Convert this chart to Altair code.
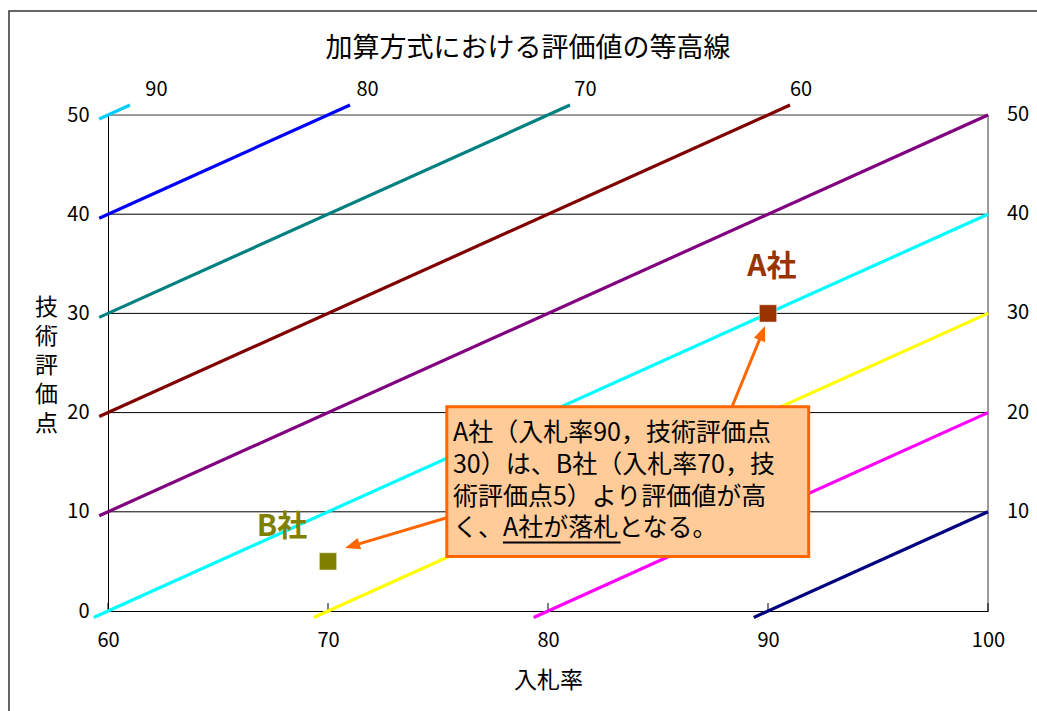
import altair as alt
import pandas as pd

FONT = "Noto Sans CJK JP"

# ---- data ----
title_text = "加算方式における評価値の等高線"
x_title = "入札率"
y_title = ["技", "術", "評", "価", "点"]
x_ticks = [60, 70, 80, 90, 100]
y_ticks = [0, 10, 20, 30, 40, 50]

# contour lines of evaluation value (technical score + (100 - bid rate))
line_values = [90, 80, 70, 60, 50, 40, 30, 20, 10]
line_colors = ["#00CCFF", "#0000FF", "#008080", "#800000", "#800080",
               "#00FFFF", "#FFFF00", "#FF00FF", "#000080"]
line_x_start = [59.6, 59.6, 59.6, 59.6, 59.6, 59.35, 69.35, 79.35, 89.35]
line_y_start = [49.6, 39.6, 29.6, 19.6, 9.6, -0.65, -0.65, -0.65, -0.65]
line_x_end = [61.0, 71.0, 81.0, 91.0, 100, 100, 100, 100, 100]
line_y_end = [51.0, 51.0, 51.0, 51.0, 50, 40, 30, 20, 10]

top_label_text = ["90", "80", "70", "60"]
top_label_x = [62.2, 71.8, 81.7, 91.5]
top_label_y = [52.5, 52.5, 52.5, 52.5]

right_label_text = ["50", "40", "30", "20", "10"]
right_label_y = [50, 40, 30, 20, 10]

grid_y = [10, 20, 30, 40]

company_names = ["A社", "B社"]
company_bid = [90, 70]
company_tech = [30, 5]
company_colors = ["#993300", "#808000"]
company_label_x = [90.18, 67.91]
company_label_y = [34.7, 8.5]

box_x = [75.4, 91.85]
box_y = [5.5, 20.6]
box_lines = ["A社（入札率90，技術評価点",
             "30）は、B社（入札率70，技",
             "術評価点5）より評価値が高",
             "く、A社が落札となる。"]
box_line_y = [17.94, 14.72, 11.49, 8.37]
box_text_x = 75.68
underline_x = [77.95, 83.3]
underline_y = 6.9

arrow_x0 = [88.36, 75.4]
arrow_y0 = [20.56, 9.4]
arrow_x1 = [89.74, 71.1]
arrow_y1 = [28.03, 6.57]
arrow_angle = [22, 253]

# ---- tables ----
rows = []
for v, xs, ys, xe, ye in zip(line_values, line_x_start, line_y_start, line_x_end, line_y_end):
    rows.append({"v": v, "x": xs, "y": ys, "o": 0})
    rows.append({"v": v, "x": xe, "y": ye, "o": 1})
lines_df = pd.DataFrame(rows)

xscale = alt.Scale(domain=[60, 100], nice=False, zero=False)
yscale = alt.Scale(domain=[0, 50], nice=False, zero=False)

xaxis = alt.Axis(values=x_ticks, title=x_title, grid=False, ticks=False,
                 labelFontSize=20, labelPadding=19, labelFont=FONT, labelColor="#000",
                 labelFlush=False, titleFont=FONT, titleFontSize=23, titleFontWeight="normal",
                 titleColor="#000", titleBaseline="middle", titleY=69,
                 domainColor="#000", domainWidth=1)
yaxis = alt.Axis(values=y_ticks, title=y_title, grid=False, ticks=False,
                 labelFontSize=20, labelPadding=19, labelFont=FONT, labelColor="#000",
                 labelFlush=False, titleFont=FONT, titleFontSize=23, titleFontWeight="normal",
                 titleColor="#000", titleAngle=0, titleX=-62, titleY=192,
                 titleAlign="center", titleBaseline="middle", titleLineHeight=29,
                 domainColor="#000", domainWidth=1)


def X(field):
    return alt.X(field, type="quantitative", scale=xscale, axis=xaxis)


def Y(field):
    return alt.Y(field, type="quantitative", scale=yscale, axis=yaxis)


one = alt.Data(values=[{"t": title_text}])

border = alt.Chart(one).mark_rect(fillOpacity=0, stroke="#333333", strokeWidth=1.5).encode(
    x=alt.value(-99), x2=alt.value(940), y=alt.value(-104), y2=alt.value(610))

title = alt.Chart(one).mark_text(font=FONT, fontSize=27, color="#000", align="center",
                                 baseline="middle").encode(
    x=alt.value(420), y=alt.value(-66), text="t:N")

grid_df = pd.DataFrame({"y": grid_y, "x0": 60, "x1": 100})
grid = alt.Chart(grid_df).mark_rule(color="#000000", strokeWidth=1).encode(
    x=X("x0"), x2="x1:Q", y=Y("y"))

top_df = pd.DataFrame({"y": [50], "x0": [60], "x1": [100]})
top_border = alt.Chart(top_df).mark_rule(color="#808080", strokeWidth=1.5).encode(
    x=X("x0"), x2="x1:Q", y=Y("y"))

right_df = pd.DataFrame({"x": [100], "y0": [0], "y1": [50]})
right_border = alt.Chart(right_df).mark_rule(color="#808080", strokeWidth=1.5).encode(
    x=X("x"), y=Y("y0"), y2="y1:Q")

tick_df = pd.DataFrame({"x": x_ticks, "y0": 0, "y1": 0.8})
ticks = alt.Chart(tick_df).mark_rule(color="#000000", strokeWidth=1).encode(
    x=X("x"), y=Y("y0"), y2="y1:Q")

lines = alt.Chart(lines_df).mark_line(strokeWidth=3.2).encode(
    x=X("x"), y=Y("y"),
    color=alt.Color("v:N", scale=alt.Scale(domain=line_values, range=line_colors), legend=None),
    order="o:O")

top_labels = alt.Chart(pd.DataFrame({"t": top_label_text, "x": top_label_x, "y": top_label_y})).mark_text(
    font=FONT, fontSize=20, color="#000", align="center", baseline="middle").encode(
    x=X("x"), y=Y("y"), text="t:N")

right_labels = alt.Chart(pd.DataFrame({"t": right_label_text, "y": right_label_y, "x": 100})).mark_text(
    font=FONT, fontSize=20, color="#000", align="center", baseline="middle", dx=30).encode(
    x=X("x"), y=Y("y"), text="t:N")

arrow_df = pd.DataFrame({"x0": arrow_x0, "y0": arrow_y0, "x1": arrow_x1, "y1": arrow_y1, "a": arrow_angle})
arrows = alt.Chart(arrow_df).mark_rule(color="#FF6600", strokeWidth=3).encode(
    x=X("x0"), y=Y("y0"), x2="x1:Q", y2="y1:Q")
heads = alt.Chart(arrow_df).mark_point(shape="M0,-1L0.8,1L-0.8,1Z", filled=True, opacity=1,
                                        color="#FF6600", size=225).encode(
    x=X("x1"), y=Y("y1"), angle=alt.Angle("a:Q", scale=None))

box = alt.Chart(pd.DataFrame({"x0": [box_x[0]], "x1": [box_x[1]], "y0": [box_y[0]], "y1": [box_y[1]]})).mark_rect(
    fill="#FFCC99", stroke="#FF6600", strokeWidth=3).encode(
    x=X("x0"), x2="x1:Q", y=Y("y0"), y2="y1:Q")

box_text = alt.Chart(pd.DataFrame({"t": box_lines, "y": box_line_y, "x": box_text_x})).mark_text(
    font=FONT, fontSize=25, color="#000", align="left", baseline="middle").encode(
    x=X("x"), y=Y("y"), text="t:N")

underline = alt.Chart(pd.DataFrame({"x0": [underline_x[0]], "x1": [underline_x[1]], "y": [underline_y]})).mark_rule(
    color="#000", strokeWidth=2).encode(
    x=X("x0"), x2="x1:Q", y=Y("y"))

comp_df = pd.DataFrame({"name": company_names, "bid": company_bid, "tech": company_tech,
                        "lx": company_label_x, "ly": company_label_y})
cscale = alt.Scale(domain=company_names, range=company_colors)
points = alt.Chart(comp_df).mark_square(size=300, opacity=1, stroke="#ffffff", strokeWidth=0.5).encode(
    x=X("bid"), y=Y("tech"),
    fill=alt.Fill("name:N", scale=cscale, legend=None))
point_labels = alt.Chart(comp_df).mark_text(font=FONT, fontSize=30, fontWeight="bold",
                                            align="center", baseline="middle").encode(
    x=X("lx"), y=Y("ly"),
    text="name:N", fill=alt.Fill("name:N", scale=cscale, legend=None))

chart = alt.layer(
    border, title, grid, top_border, right_border, ticks, lines, top_labels, right_labels,
    arrows, heads, box, box_text, underline, points, point_labels
).properties(
    width=880, height=496,
    autosize=alt.AutoSizeParams(type="none"),
    padding={"left": 108, "top": 115, "right": 49, "bottom": 100},
).configure_view(strokeWidth=0).configure(background="#ffffff")

chart.save("out.html", embed_options={"renderer": "svg", "actions": False})
